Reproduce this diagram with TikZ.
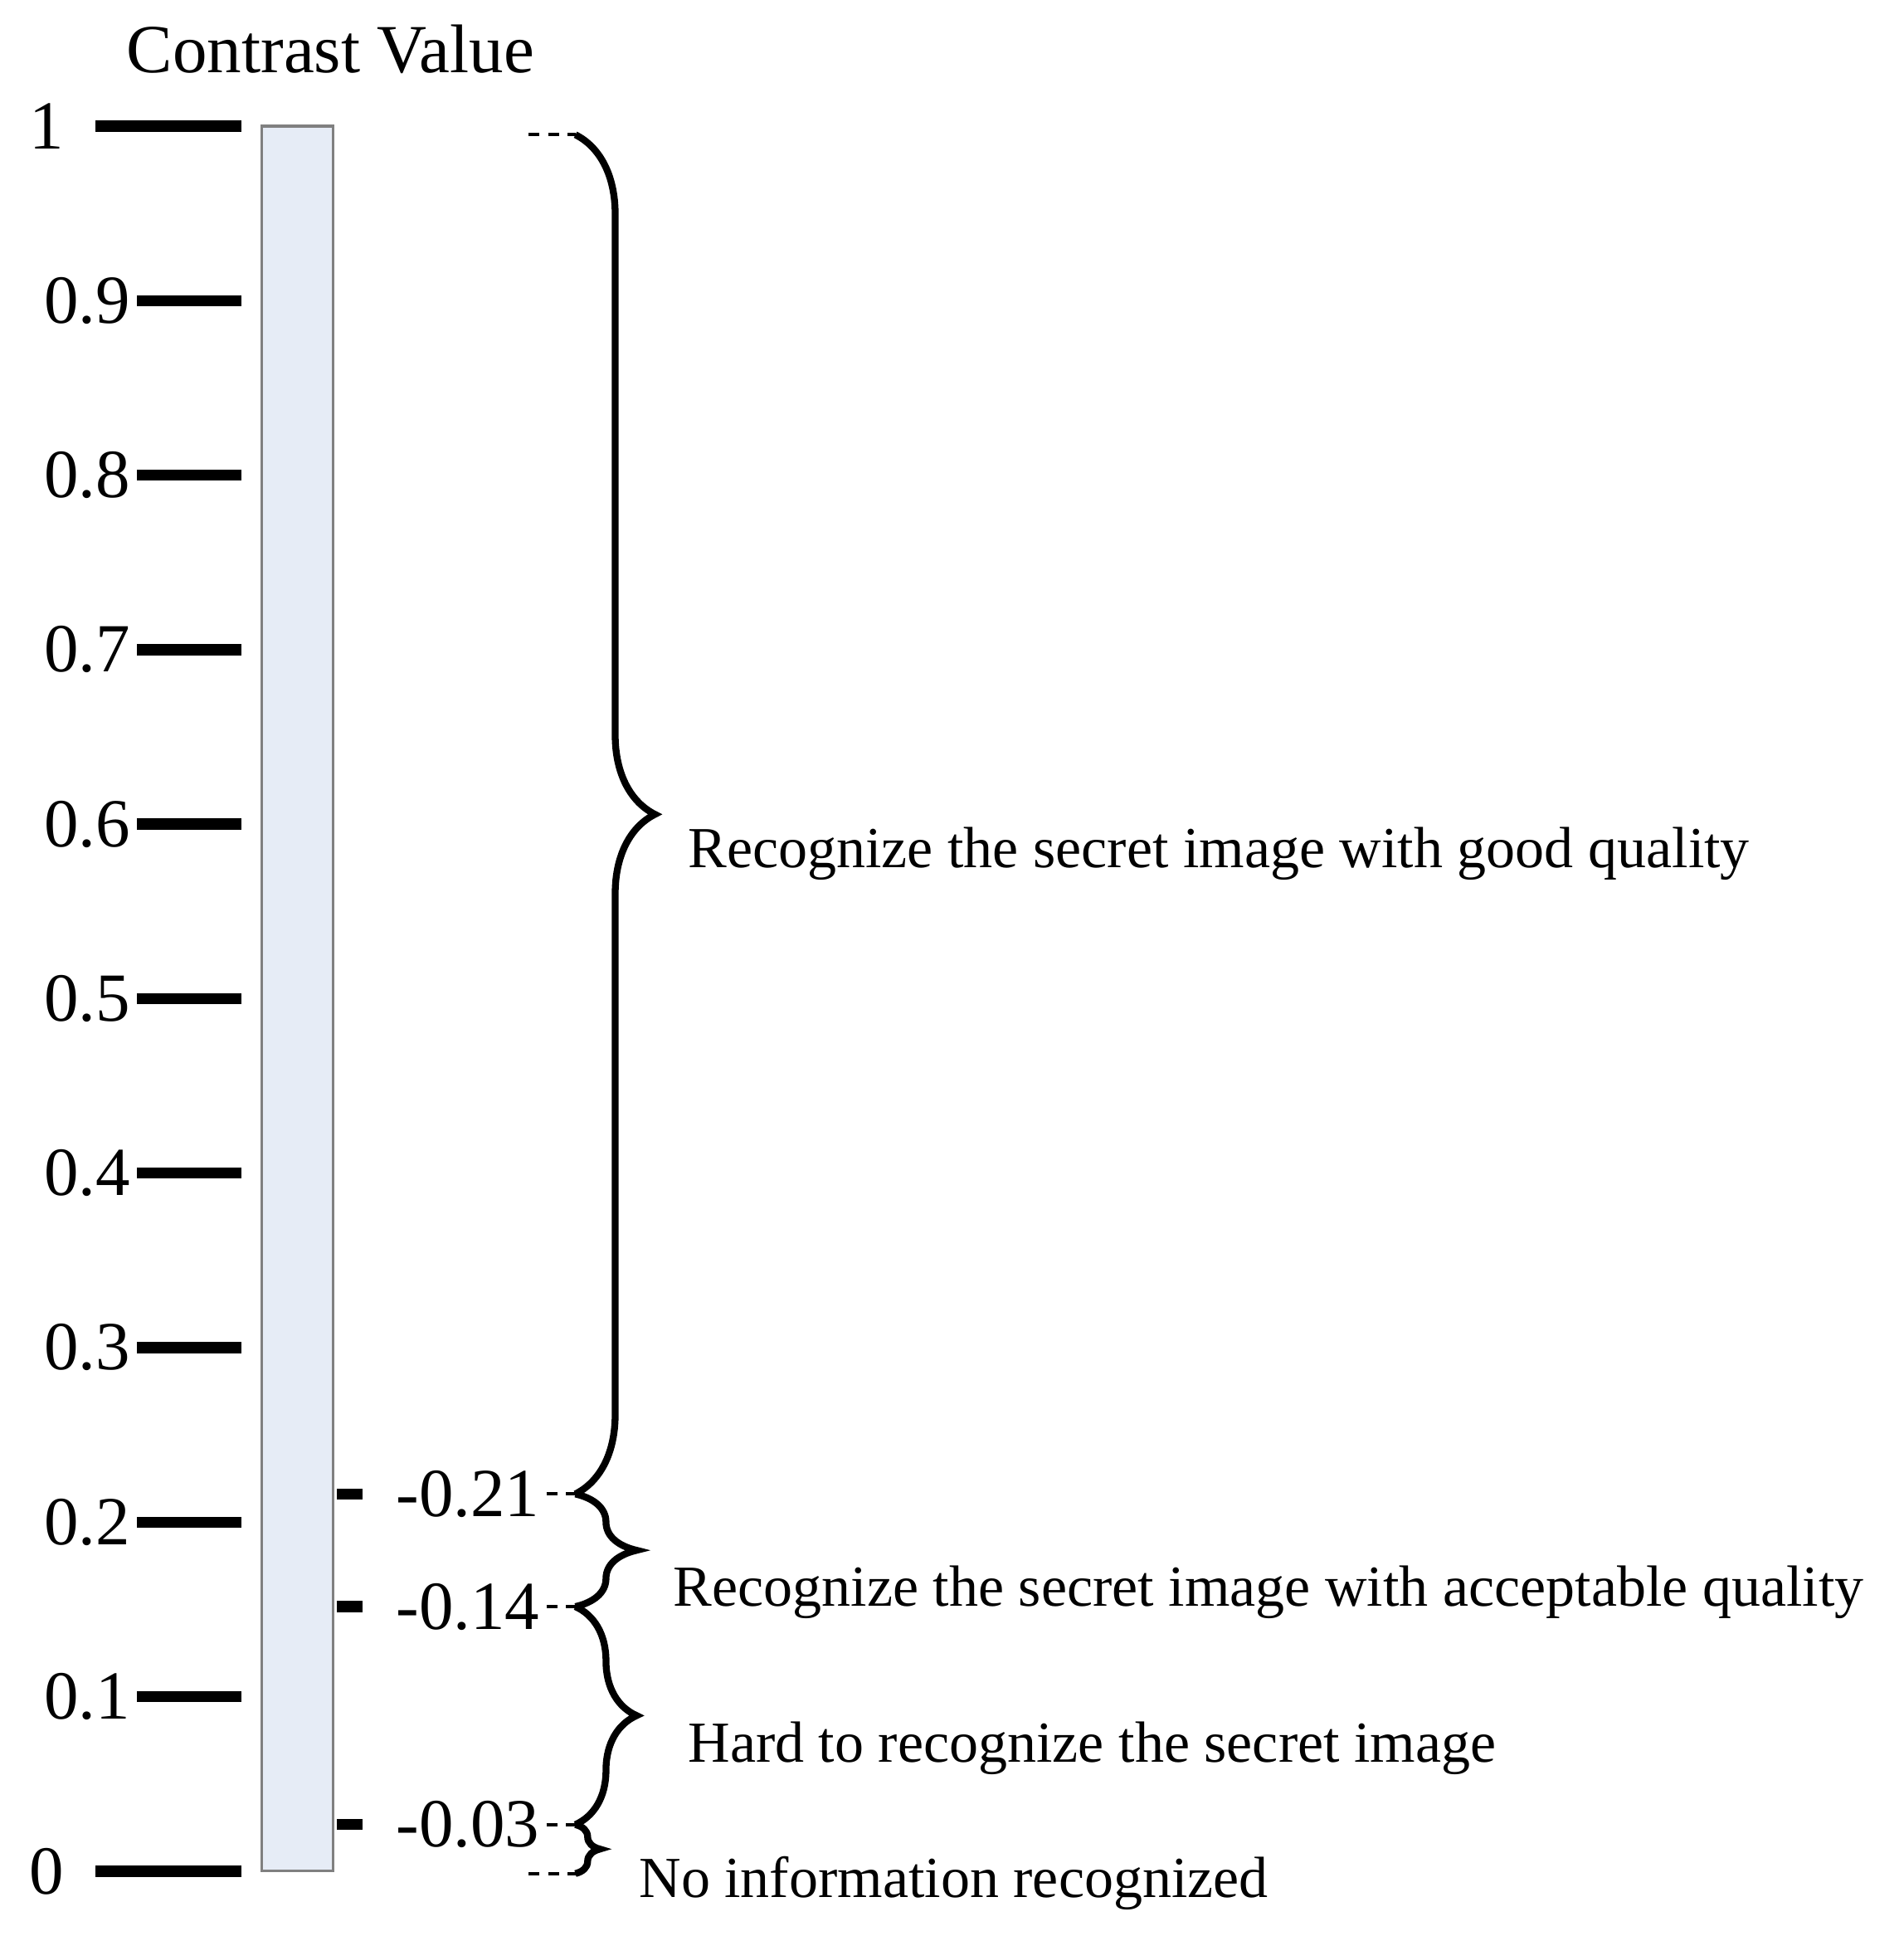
\documentclass[tikz,border=0pt]{standalone}
\usepackage{fontspec}
\setmainfont{Liberation Serif}
\usetikzlibrary{decorations.pathreplacing}

\begin{document}
\begin{tikzpicture}[x=1cm,y=1cm,line width=1.2pt]
	\tikzstyle{tick}=[line width=2.6pt]
	\tikzstyle{stub}=[line width=2.6pt]
	\tikzstyle{val}=[font=\fontsize{16}{16}\selectfont,inner sep=1pt]
	\tikzstyle{annot}=[font=\fontsize{13.5}{14}\selectfont,anchor=west,inner sep=0pt]
	\tikzstyle{dashln}=[line width=0.8pt,dash pattern=on 2.5pt off 2pt]
	\tikzstyle{brc}=[decorate,decoration={brace,amplitude=#1,aspect=0.5},line width=1.6pt]
	\useasboundingbox (0,0) rectangle (15.55,-15.81);
	% title
	\node[val] (title) at (2.7,-0.4) {Contrast Value};
	% bar
	\draw[fill={rgb,255:red,230;green,236;blue,246},draw=gray,line width=0.6pt]
		(2.14,-1.03) rectangle (2.72,-15.28);
	% main ticks
	\node[val] (v10) at (0.38,-1.03) {1};
	\node[val] (v0) at (0.38,-15.28) {0};
	\coordinate (t1) at (0.78,-1.03);
	\coordinate (t0) at (0.78,-15.28);
	\draw[tick] (t1) -- ++(1.19,0);
	\draw[tick] (t0) -- ++(1.19,0);
	\foreach \v in {1,...,9}{
		\node[val,anchor=east] (v\v) at (1.12,-15.28+1.425*\v) {0.\v};
		\draw[tick] (v\v.east) -- ++(0.85,0);
	}
	% thresholds
	\foreach \n/\y in {21/12.20,14/13.12,03/14.90}{
		\coordinate (s\n) at (2.75,-\y);
		\draw[stub] (s\n) -- ++(0.21,0);
		\node[val,anchor=west] (h\n) at (3.18,-\y) {-0.\n};
		\coordinate (e\n) at (4.70,-\y);
		\draw[dashln] (h\n.east) -- (e\n);
	}
	\coordinate (etop) at (4.70,-1.10);
	\coordinate (ebot) at (4.70,-15.30);
	\draw[dashln] (4.32,-1.10) -- (etop);
	\draw[dashln] (4.32,-15.30) -- (ebot);
	% braces
	\draw[brc=0.65cm] (etop) -- (e21);
	\draw[brc=0.5cm] (e21) -- (e14);
	\draw[brc=0.5cm] (e14) -- (e03);
	\draw[brc=0.2cm] (e03) -- (ebot);
	% annotations
	\node[annot] (good) at (5.6,-6.97) {Recognize the secret image with good quality};
	\node[annot] (acc) at (5.48,-13.0) {Recognize the secret image with acceptable quality};
	\node[annot] (hard) at (5.6,-14.28) {Hard to recognize the secret image};
	\node[annot] (none) at (5.2,-15.38) {No information recognized};
\end{tikzpicture}
\end{document}
